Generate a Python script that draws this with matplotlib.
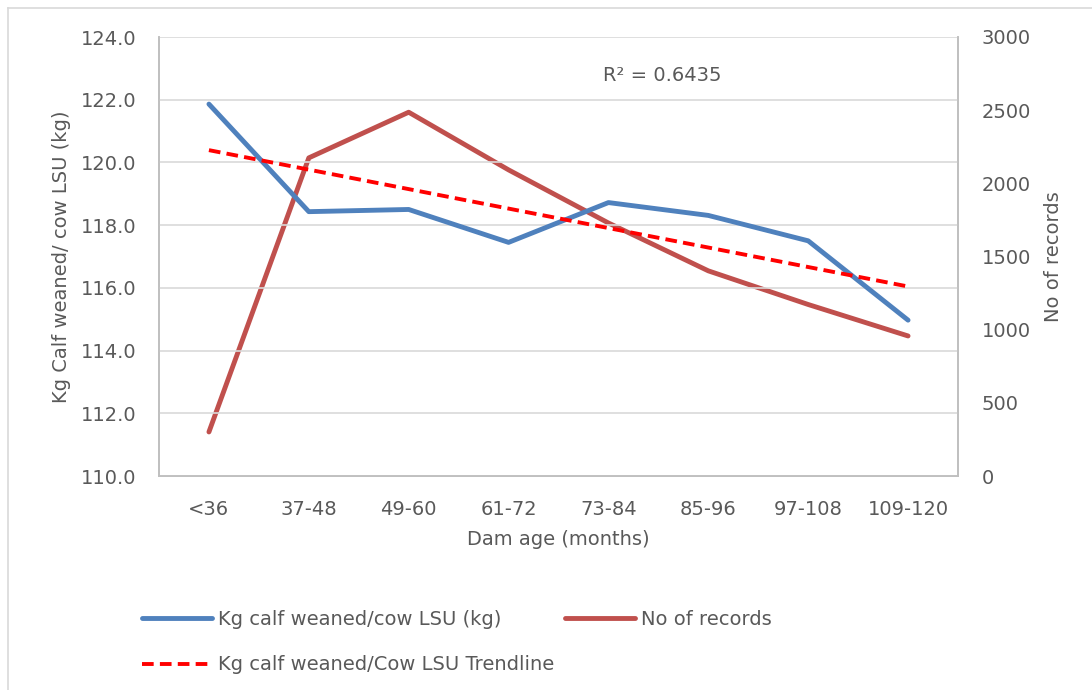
import numpy as np
import matplotlib
matplotlib.use('Agg')
import matplotlib.pyplot as plt
from matplotlib.lines import Line2D

plt.rcParams['font.family'] = ['DejaVu Sans']

age_groups = ['<36', '37-48', '49-60', '61-72', '73-84', '85-96', '97-108', '109-120']
kg_weaned = [121.86, 118.43, 118.50, 117.45, 118.72, 118.31, 117.50, 114.97]
n_records = [301, 2174, 2486, 2092, 1729, 1402, 1172, 957]
r2_text = 'R² = 0.6435'

grey = '#595959'
blue = '#4F81BD'
red = '#C0504D'
fs = 14


def add_legend(fig, handles, labels, x_px, y_px):
    leg = fig.legend(handles, labels, loc='upper left',
                     bbox_to_anchor=(x_px / 1092, 1 - y_px / 690),
                     frameon=False, fontsize=fs, handlelength=3.6, handletextpad=0.3,
                     labelspacing=1.36, borderpad=0, borderaxespad=0, labelcolor=grey)
    return leg


def main():
    fig = plt.figure(figsize=(10.92, 6.90), dpi=100)
    ax = fig.add_axes([159 / 1092, 1 - 476 / 690, 799 / 1092, 439 / 690])
    ax2 = ax.twinx()

    x = np.arange(len(age_groups))
    # linear trendline of the weaned series, as Excel does
    coef = np.polyfit(x, kg_weaned, 1)
    trend = np.polyval(coef, x)

    l1, = ax.plot(x, kg_weaned, color=blue, lw=3.5, solid_capstyle='round', zorder=3)
    l3, = ax.plot(x, trend, color='#FF0000', lw=2.8, ls=(0, (3, 1.6)), zorder=4)
    l2, = ax2.plot(x, n_records, color=red, lw=3.5, solid_capstyle='round', zorder=3)
    ax.set_zorder(ax2.get_zorder() + 1)
    ax.patch.set_visible(False)

    ax.set_xlim(-0.5, len(age_groups) - 0.5)
    ax.set_ylim(110, 124)
    ticks = np.arange(110, 124.1, 2)
    ax.set_yticks(ticks)
    ax.set_yticklabels(['%.1f' % v for v in ticks])
    ax2.set_ylim(0, 3000)
    ax2.set_yticks(np.arange(0, 3001, 500))
    ax.set_xticks(x)
    ax.set_xticklabels(age_groups)

    ax.grid(axis='y', color='#D9D9D9', lw=1.2)
    ax.set_axisbelow(True)
    for a in (ax, ax2):
        for s in a.spines.values():
            s.set_color('#BFBFBF')
            s.set_linewidth(1.2)
        a.spines['top'].set_visible(False)
        a.tick_params(length=0, colors=grey, labelsize=fs)
    ax.tick_params(axis='y', pad=16)
    ax2.tick_params(axis='y', pad=17)
    ax.tick_params(axis='x', pad=17)

    ax.set_xlabel('Dam age (months)', fontsize=fs, color=grey, labelpad=8)
    ax.set_ylabel('Kg Calf weaned/ cow LSU (kg)', fontsize=fs, color=grey, labelpad=7.5)
    ax2.set_ylabel('No of records', fontsize=fs, color=grey, labelpad=9.5)

    ax.text(0.63, 0.913, r2_text, transform=ax.transAxes, fontsize=fs, color=grey,
            ha='center', va='center')

    add_legend(fig, [l1, l3], ['Kg calf weaned/cow LSU (kg)', 'Kg calf weaned/Cow LSU Trendline'],
               142, 610)
    add_legend(fig, [l2], ['No of records'], 565, 610)

    # outer chart border (only top and left visible in the crop)
    fig.add_artist(Line2D([8 / 1092, 8 / 1092], [0, 1 - 8 / 690], color='#D9D9D9', lw=1.2))
    fig.add_artist(Line2D([8 / 1092, 1], [1 - 8 / 690, 1 - 8 / 690], color='#D9D9D9', lw=1.2))

    fig.savefig('out.png', dpi=100)


if __name__ == '__main__':
    main()
